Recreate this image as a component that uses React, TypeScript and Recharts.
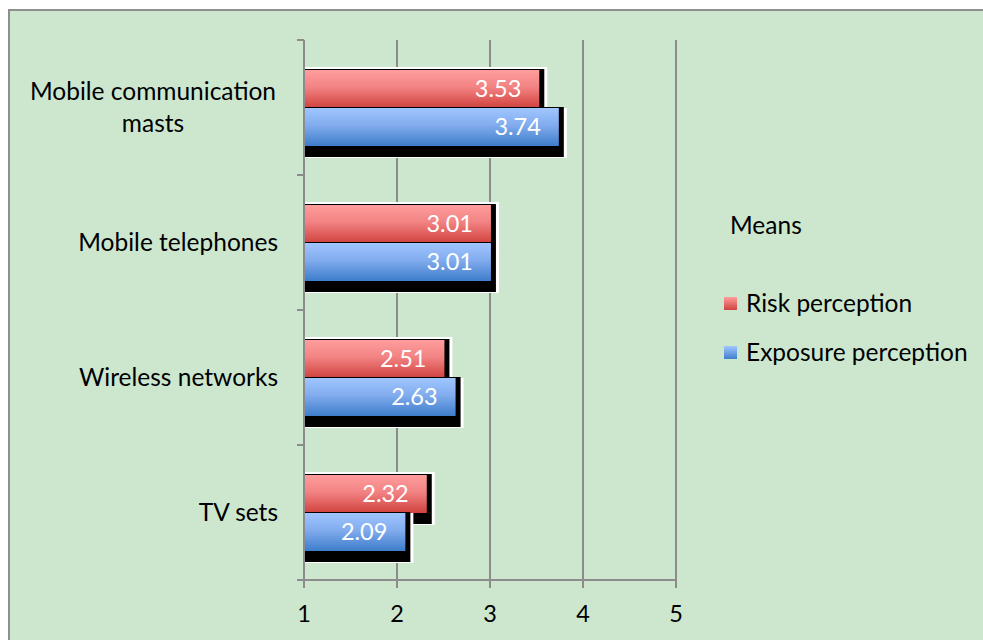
import React from 'react';
import { BarChart, Bar, XAxis, YAxis, CartesianGrid, LabelList } from 'recharts';

const categories = ['Mobile communication masts', 'Mobile telephones', 'Wireless networks', 'TV sets'];
const categoryLines = [['Mobile communication', 'masts'], ['Mobile telephones'], ['Wireless networks'], ['TV sets']];
const riskValues = [3.53, 3.01, 2.51, 2.32];
const exposureValues = [3.74, 3.01, 2.63, 2.09];
const xTicks = [1, 2, 3, 4, 5];
const seriesNames = ['Risk perception', 'Exposure perception'];
const legendTitle = 'Means';

const data = categories.map((c, i) => ({
  category: c,
  risk: riskValues[i],
  exposure: exposureValues[i],
}));

const FONT = 'Lato, "Open Sans", sans-serif';
const GRID = '#8c8c8c';
const BAND = 135;
const TXT = 24.5;
const NUM = 23.5;

const CategoryTick = (props: any) => {
  const { x, y, payload, index } = props;
  const idx = payload.index ?? index;
  const lines = categoryLines[idx] || [payload.value];
  const right = x - 18;
  const axisX = x + 8;
  const lh = 32;
  const cy = y - 1.5;
  const startY = cy - ((lines.length - 1) * lh) / 2;
  return (
    <g>
      <line x1={axisX - 7} x2={axisX} y1={y - BAND / 2} y2={y - BAND / 2} stroke={GRID} strokeWidth={2} />
      {idx === categories.length - 1 && (
        <line x1={axisX - 7} x2={axisX} y1={y + BAND / 2} y2={y + BAND / 2} stroke={GRID} strokeWidth={2} />
      )}
      {lines.length > 1 ? (
        <text x={right - 125} y={startY} textAnchor="middle" dominantBaseline="central" fontSize={TXT} fill="#000" fontFamily={FONT}>
          {lines.map((l: string, i: number) => (
            <tspan key={i} x={right - 125} y={startY + i * lh}>{l}</tspan>
          ))}
        </text>
      ) : (
        <text x={right} y={cy} textAnchor="end" dominantBaseline="central" fontSize={TXT} fill="#000" fontFamily={FONT}>
          {lines[0]}
        </text>
      )}
    </g>
  );
};

const makeShape = (grad: string, topGlow: boolean) => (props: any) => {
  const { x, y, width, height } = props;
  if (width == null || width <= 0) return null;
  return (
    <g>
      <rect x={x} y={topGlow ? y - 3 : y} width={width + 8} height={height + (topGlow ? 15 : 12)} fill="#ffffff" />
      <rect x={x} y={y - 1} width={width + 5} height={height + 12} fill="#000000" />
      <rect x={x} y={y} width={width} height={height} fill={`url(#${grad})`} />
    </g>
  );
};

const RiskShape = makeShape('gRed', true);
const ExpShape = makeShape('gBlue', false);

const LegendBox = () => (
  <div style={{ position: 'absolute', left: 720, top: 205, width: 260, height: 170, fontFamily: FONT, fontSize: TXT, color: '#000' }}>
    <div style={{ position: 'absolute', left: 10, top: 6, lineHeight: '28px' }}>{legendTitle}</div>
    {seriesNames.map((n, i) => (
      <div key={n} style={{ position: 'absolute', left: 4, top: 84 + i * 49, height: 28, display: 'flex', alignItems: 'center', whiteSpace: 'nowrap' }}>
        <span
          style={{
            display: 'inline-block',
            width: 13,
            height: 13,
            marginRight: 9,
            background: i === 0 ? 'linear-gradient(#ff9d9d, #d04440)' : 'linear-gradient(#a0c6ff, #3f7fcc)',
          }}
        />
        <span style={{ lineHeight: '28px' }}>{n}</span>
      </div>
    ))}
  </div>
);

export default function App() {
  return (
    <div style={{ position: 'absolute', left: 0, top: 0, width: 983, height: 640, overflow: 'hidden' }}>
      <div
        style={{
          position: 'absolute',
          left: 8,
          top: 9,
          width: 1000,
          height: 660,
          background: '#cde7cf',
          border: '2px solid #8f8f8f',
          boxSizing: 'border-box',
        }}
      />
      <div style={{ position: 'absolute', left: 0, top: 0 }}>
        <BarChart
          width={983}
          height={640}
          data={data}
          layout="vertical"
          margin={{ top: 40, right: 307, left: 0, bottom: 0 }}
          barSize={38}
          barGap={0}
          style={{ fontFamily: FONT }}
        >
          <defs>
            <linearGradient id="gRed" x1="0" y1="0" x2="0" y2="1">
              <stop offset="0%" stopColor="#ff9d9d" />
              <stop offset="45%" stopColor="#f28383" />
              <stop offset="100%" stopColor="#d0423e" />
            </linearGradient>
            <linearGradient id="gBlue" x1="0" y1="0" x2="0" y2="1">
              <stop offset="0%" stopColor="#a0c6ff" />
              <stop offset="45%" stopColor="#82acee" />
              <stop offset="100%" stopColor="#3d7dca" />
            </linearGradient>
          </defs>
          <CartesianGrid horizontal={false} stroke={GRID} strokeWidth={2} />
          <XAxis
            type="number"
            domain={[1, 5]}
            ticks={xTicks}
            interval={0}
            axisLine={{ stroke: GRID, strokeWidth: 2 }}
            tickLine={{ stroke: GRID, strokeWidth: 2 }}
            tickSize={8}
            tickMargin={17}
            height={60}
            tick={{ fontSize: NUM, fill: '#000', fontFamily: FONT }}
          />
          <YAxis
            type="category"
            dataKey="category"
            width={304}
            tickLine={false}
            axisLine={{ stroke: GRID, strokeWidth: 2 }}
            tick={<CategoryTick />}
            interval={0}
          />
          <Bar dataKey="risk" name={seriesNames[0]} fill="url(#gRed)" shape={RiskShape} isAnimationActive={false}>
            <LabelList dataKey="risk" position="insideRight" offset={18} fill="#ffffff" fontSize={NUM} fontFamily={FONT} formatter={(v: any) => Number(v).toFixed(2)} />
          </Bar>
          <Bar dataKey="exposure" name={seriesNames[1]} fill="url(#gBlue)" shape={ExpShape} isAnimationActive={false}>
            <LabelList dataKey="exposure" position="insideRight" offset={18} fill="#ffffff" fontSize={NUM} fontFamily={FONT} formatter={(v: any) => Number(v).toFixed(2)} />
          </Bar>
        </BarChart>
      </div>
      <LegendBox />
    </div>
  );
}
